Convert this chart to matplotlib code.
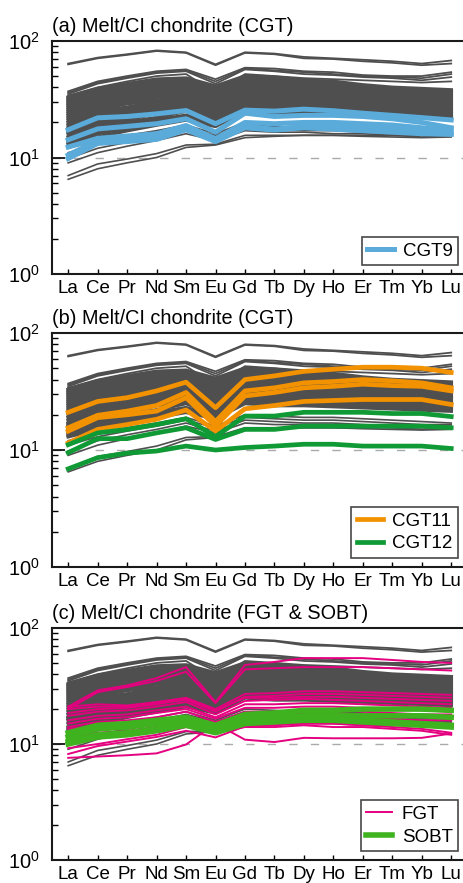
import matplotlib
matplotlib.use('Agg')
import matplotlib.pyplot as plt
import numpy as np

plt.rcParams['font.family'] = ['Liberation Sans', 'DejaVu Sans']
plt.rcParams['mathtext.fontset'] = 'custom'
plt.rcParams['mathtext.rm'] = 'Liberation Sans'

elements = ['La', 'Ce', 'Pr', 'Nd', 'Sm', 'Eu', 'Gd', 'Tb', 'Dy', 'Ho', 'Er', 'Tm', 'Yb', 'Lu']

# grey background: all melt inclusions (same in every panel)
gray_top = [
    [64, 72, 77, 83, 80, 63, 80, 78, 73, 71, 69, 67, 64, 68],
    [63, 71, 76, 82, 79, 62, 79, 77, 71, 70, 67, 65, 62, 64],
    [37, 45, 50, 55, 57, 47, 59, 58, 55, 54, 51, 50, 50, 54],
    [36, 44, 49, 54, 56, 45, 58, 56, 54, 52, 50, 49, 48, 52],
    [35, 43, 48, 53, 55, 43, 57, 55, 52, 51, 49, 48, 46, 49],
    [34, 40, 45, 50, 52, 36, 52, 50, 48, 47, 46, 45, 44, 45],
]
gray_band = [
    [33, 39, 43, 47, 48, 41, 50, 49, 46, 45, 42, 40, 39, 38],
    [32, 38, 42, 46, 47, 39, 49, 48, 45, 44, 41, 39, 38, 37],
    [31, 36, 40, 44, 46, 37, 47, 46, 44, 42, 40, 38, 37, 36],
    [30, 35, 39, 43, 45, 36, 46, 45, 43, 41, 39, 37, 36, 35],
    [29, 34, 37, 41, 43, 34, 45, 44, 42, 40, 38, 36, 35, 34],
    [28, 32, 36, 40, 42, 33, 44, 43, 40, 39, 37, 35, 34, 33],
    [27, 31, 35, 38, 40, 31, 42, 41, 39, 38, 36, 34, 33, 32],
    [26, 30, 33, 37, 39, 30, 41, 40, 38, 37, 35, 33, 32, 31],
    [25, 29, 32, 35, 38, 29, 40, 39, 37, 36, 34, 32, 31, 30],
    [24, 28, 31, 34, 36, 28, 38, 37, 36, 35, 33, 31, 30, 29.5],
    [23, 27, 30, 33, 35, 27, 37, 36, 35, 34, 32, 30, 29.5, 29],
    [22, 26, 29, 31, 34, 26, 36, 35, 34, 33, 31, 29.5, 29, 28],
    [21, 25, 27, 30, 32, 25, 35, 34, 33, 32, 30, 29, 28, 27.5],
    [20, 24, 26, 29, 31, 24, 34, 33, 32, 31, 29.5, 28, 27.5, 27],
    [19, 23, 25, 28, 30, 23, 33, 32, 31, 30, 29, 27.5, 27, 26],
    [18, 22, 24, 27, 29, 22, 32, 31, 30, 29, 28, 27, 26, 25.5],
    [17, 21, 23, 26, 28, 21.5, 31, 30, 29, 28, 27, 26, 25.5, 25],
    [16.5, 20, 22, 25, 27, 21, 30, 29, 28, 27, 26, 25.5, 25, 24],
    [16, 19, 21, 24, 26, 20.5, 29, 28, 27, 26.5, 25.5, 25, 24, 23.5],
    [15, 18, 20, 22, 25, 20, 28, 27, 26.5, 26, 25, 24, 23.5, 23],
    [14, 17, 19, 21, 23, 19.5, 27, 26, 26, 25, 24, 23.5, 23, 22.5],
    [13.5, 16, 18, 20, 22, 19, 26, 25, 25, 24.5, 23.5, 23, 22.5, 22],
    [13, 15, 17, 19, 21, 18.5, 25, 24, 24, 23.5, 23, 22.5, 22, 21.5],
]
gray_low = [
    [12, 14, 15.5, 17, 19, 16, 20, 19.5, 19, 19, 18.5, 18, 17.5, 17],
    [11, 13, 14.5, 16, 18, 15.5, 19, 18.5, 18, 18, 17.5, 17, 16.5, 16.5],
    [9.8, 12, 13.5, 15, 17, 14.5, 18, 17.5, 17, 17, 16.5, 16, 16, 16],
    [9.0, 11, 12.5, 14, 16, 14, 17, 16.5, 16.5, 16, 16, 15.5, 15.5, 15.5],
    [7.0, 8.8, 9.7, 10.8, 12.8, 13.0, 15.5, 15.5, 15.5, 15.5, 15.5, 15.5, 15, 15.5],
    [6.5, 8.0, 9.0, 10.0, 12.2, 12.8, 14.8, 15.2, 15.5, 15.5, 15.2, 15, 14.8, 15],
]

# (a) CGT9
cgt9 = [
    [17.3, 21.9, 22.5, 23.7, 25.3, 19.5, 25.5, 25, 26, 25.2, 24, 23, 22, 21],
    [14.2, 17.6, 18.5, 19.5, 21.5, 16.5, 24, 22.5, 23, 23, 22.5, 21.5, 20, 18],
    [12.3, 14.6, 15.3, 16, 18.8, 14.5, 20, 19.5, 20, 20, 19.5, 19, 18, 17],
    [10.5, 14, 14.5, 14.9, 18, 14, 18.5, 17.5, 18.5, 18.5, 18, 17.5, 16.5, 16],
    [9.8, 13.2, 13.7, 14.3, 17.3, 13.7, 18, 17.2, 18, 17.5, 17, 16.5, 16, 15.8],
]

# (b) CGT11 and CGT12
cgt11 = [
    [21, 26, 28, 32, 38, 23, 40, 43, 47, 49, 51, 51, 50, 46],
    [15.5, 19.8, 21.5, 24, 31, 17.5, 32, 34, 37.5, 38.5, 40, 39, 37.5, 34],
    [14.5, 18.9, 20, 21.5, 28, 16, 29, 31, 34, 35, 36.5, 35.5, 35, 32],
    [11.5, 15, 16.5, 18.3, 22, 14.5, 22.5, 24, 26, 26.5, 27, 27, 27, 24.5],
]
cgt12 = [
    [11.1, 14, 15, 16.5, 18.5, 13, 19.5, 19.5, 21, 21, 21, 20.5, 20.5, 19.3],
    [9.5, 12.5, 12.5, 14, 15.5, 12.3, 15, 15, 16, 16, 16, 16, 16, 15.5],
    [6.9, 8.6, 9.4, 9.8, 10.8, 10, 10.5, 10.8, 11.2, 11.2, 10.8, 10.8, 10.8, 10.3],
]

# (c) FGT and SOBT
fgt = [
    [21, 29, 32, 37, 46, 23, 48, 51, 55, 55, 55, 53, 51, 50],
    [20, 28, 31, 35, 42, 22.5, 44, 45, 46, 46, 46, 45, 44, 43],
    [21, 22, 21.5, 23, 25, 20, 27, 27.5, 28.5, 28.5, 28, 27.5, 27, 26.5],
    [20, 21, 21, 22.5, 24, 19, 25.5, 26, 27, 27, 26.5, 26, 25.5, 25],
    [18.5, 20, 20.5, 22, 24.5, 19.5, 25, 25, 25.5, 25.5, 25, 24.5, 24, 23.5],
    [17.5, 19, 19.5, 21, 23, 18, 23.5, 24, 24.5, 24, 23.5, 23, 22.5, 22],
    [16, 17.5, 18, 19.5, 21, 17, 22, 22, 22.5, 22.5, 22, 21.5, 21, 20.5],
    [15, 16.5, 17, 18.5, 20, 16.5, 20.5, 20.5, 21, 21, 20.5, 20, 19.5, 19],
    [14, 15.5, 16, 17, 19, 15.5, 19, 19, 19.5, 19.5, 19, 18.5, 18, 18],
    [13.5, 14.5, 15, 16, 17.5, 15, 18, 18, 18.5, 18.5, 18, 17.5, 17.5, 17],
    [12.8, 14, 14.5, 15.5, 17, 14.5, 17, 17, 17.5, 17.5, 17, 16.5, 16, 16],
    [12, 13.5, 14, 15, 16.5, 14, 16, 16, 16, 16, 15.5, 15.5, 15, 15],
    [11, 12.5, 13, 14, 15.5, 13, 15, 15, 15, 15, 14.5, 14.5, 14.5, 14.5],
    [9.2, 10, 11, 12, 14, 12.5, 14, 14, 14.5, 14, 14, 13.5, 13, 12],
    [8.2, 9.6, 10.5, 11.5, 13.0, 11.4, 14.2, 14.5, 15, 15, 14.5, 14, 13.5, 12.5],
    [7.6, 7.8, 8.0, 8.3, 9.9, 15, 10.9, 10.4, 11.3, 11.2, 11.2, 11.2, 11.3, 12.3],
]
sobt = [
    [12.5, 14.5, 15, 16, 17, 14.5, 18, 18.5, 19.5, 19.5, 20, 20, 20, 19.5],
    [11.5, 13.5, 14, 15, 16, 14, 16.5, 17, 17.5, 17.5, 17.5, 17.5, 17.5, 17],
    [10.5, 12, 12.5, 13.5, 15, 13, 15.5, 16, 16.5, 16.5, 16, 15.5, 15, 14.5],
    [10, 11.5, 12, 13, 14.5, 12.5, 15, 15.5, 16, 16, 15.5, 15, 14.5, 14],
]

titles = ['(a) Melt/CI chondrite (CGT)',
          '(b) Melt/CI chondrite (CGT)',
          '(c) Melt/CI chondrite (FGT & SOBT)']

GRAY = '#4f4f4f'
x = np.arange(len(elements))

fig = plt.figure(figsize=(4.64, 8.83), dpi=100)
W, H = 464.0, 883.0
# axes boxes in pixels: left, top, bottom
boxes = [(52, 41, 274), (52, 333, 567), (52, 628, 860)]
axes = []
for left, top, bottom in boxes:
    ax = fig.add_axes([left / W, 1 - bottom / H, 416 / W, (bottom - top) / H])
    axes.append(ax)


def draw_gray(ax):
    for row in gray_top:
        ax.plot(x, row, color=GRAY, lw=1.3, zorder=2)
    for row in gray_band:
        ax.plot(x, row, color=GRAY, lw=2.6, zorder=2)
    for row in gray_low:
        ax.plot(x, row, color=GRAY, lw=1.2, zorder=2)


def style(ax, title):
    ax.set_yscale('log')
    ax.set_ylim(1, 100)
    ax.set_xlim(-0.55, 13.57)
    ax.set_xticks(x)
    ax.set_xticklabels(elements)
    ax.axhline(10, color='#aaaaaa', lw=1.0, dashes=(6, 9.5), zorder=1)
    for s in ax.spines.values():
        s.set_linewidth(1.5)
        s.set_color('#1a1a1a')
    ax.tick_params(axis='both', which='both', direction='in')
    ax.tick_params(axis='y', which='major', length=9, width=1.2, pad=9,
                   labelsize=14.5)
    ax.tick_params(axis='y', which='minor', length=4.5, width=1.0)
    ax.tick_params(axis='x', which='major', length=3.5, width=1.0, pad=4,
                   labelsize=13.5)
    ax.text(0.0, 1.02, title, transform=ax.transAxes, ha='left', va='bottom',
            fontsize=14.3)


for ax, t in zip(axes, titles):
    draw_gray(ax)
    style(ax, t)

ax = axes[0]
for i, row in enumerate(cgt9):
    ax.plot(x, row, color='#5aabda', lw=3.6, zorder=3,
            label='CGT9' if i == 0 else None)

ax = axes[1]
for i, row in enumerate(cgt11):
    ax.plot(x, row, color='#f39200', lw=3.4, zorder=3,
            label='CGT11' if i == 0 else None)
for i, row in enumerate(cgt12):
    ax.plot(x, row, color='#0f9a35', lw=3.4, zorder=3,
            label='CGT12' if i == 0 else None)

ax = axes[2]
for i, row in enumerate(fgt):
    ax.plot(x, row, color='#e4007f', lw=1.4, zorder=3,
            label='FGT' if i == 0 else None)
for i, row in enumerate(sobt):
    ax.plot(x, row, color='#3fb21f', lw=4.0, zorder=4,
            label='SOBT' if i == 0 else None)

for ax in axes:
    leg = ax.legend(loc='lower right', bbox_to_anchor=(0.977, 0.038),
                    borderaxespad=0, fontsize=13.5, frameon=True,
                    fancybox=False, edgecolor='#1a1a1a', handlelength=1.4,
                    handletextpad=0.5, borderpad=0.3, labelspacing=0.3)
    leg.get_frame().set_linewidth(1.2)

fig.savefig('out.png', dpi=100)
